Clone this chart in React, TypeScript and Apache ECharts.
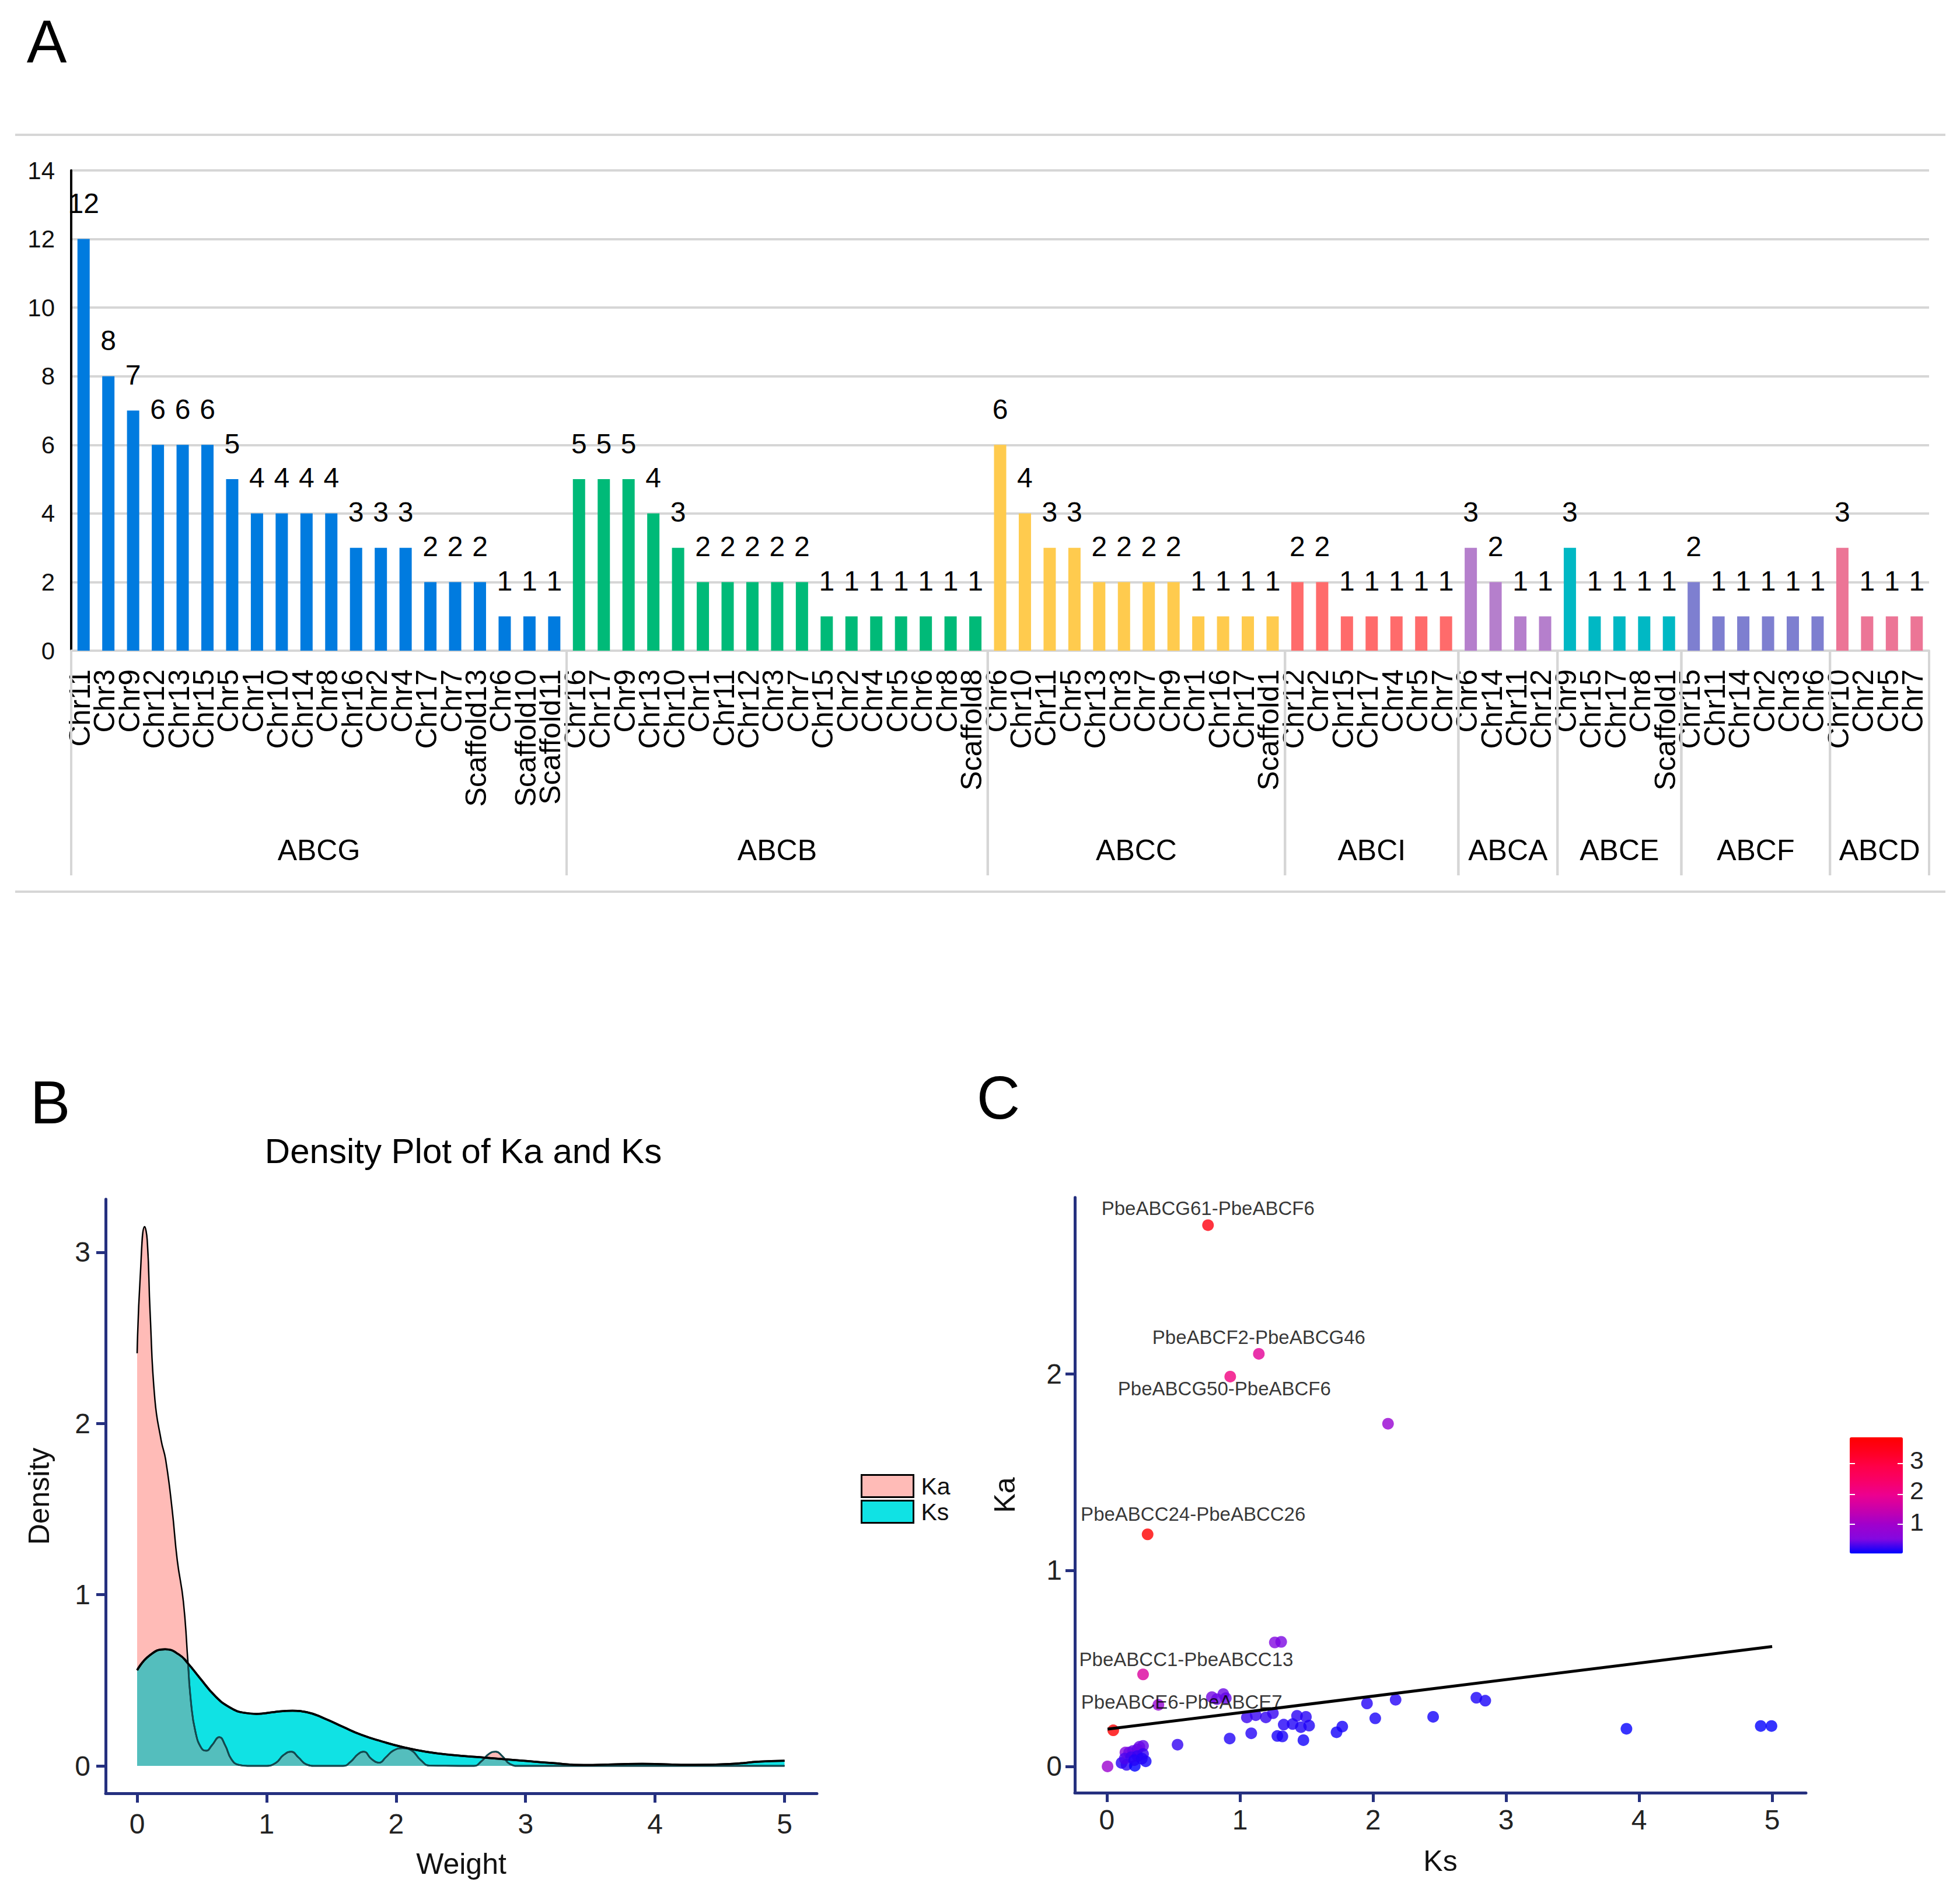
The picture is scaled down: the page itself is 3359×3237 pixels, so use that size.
import { useEffect, useRef } from 'react'
import * as echarts from 'echarts'

const FONT = '"Liberation Sans", Arial, sans-serif'
const NAVY = '#25307f'
const RULE = '#d6d6d6'

// panel A
const groupNames = ['ABCG', 'ABCB', 'ABCC', 'ABCI', 'ABCA', 'ABCE', 'ABCF', 'ABCD']
const groupColors = ['#007bdf', '#00ba78', '#ffcb4e', '#ff6b6b', '#b57fcc', '#00b8c4', '#7e7fd0', '#ec7596']
const abcgChr = ['Chr11', 'Chr3', 'Chr9', 'Chr12', 'Chr13', 'Chr15', 'Chr5', 'Chr1', 'Chr10', 'Chr14', 'Chr8', 'Chr16', 'Chr2', 'Chr4', 'Chr17', 'Chr7', 'Scaffold13', 'Chr6', 'Scaffold10', 'Scaffold11']
const abcgCount = [12, 8, 7, 6, 6, 6, 5, 4, 4, 4, 4, 3, 3, 3, 2, 2, 2, 1, 1, 1]
const abcbChr = ['Chr16', 'Chr17', 'Chr9', 'Chr13', 'Chr10', 'Chr1', 'Chr11', 'Chr12', 'Chr3', 'Chr7', 'Chr15', 'Chr2', 'Chr4', 'Chr5', 'Chr6', 'Chr8', 'Scaffold8']
const abcbCount = [5, 5, 5, 4, 3, 2, 2, 2, 2, 2, 1, 1, 1, 1, 1, 1, 1]
const abccChr = ['Chr6', 'Chr10', 'Chr11', 'Chr5', 'Chr13', 'Chr3', 'Chr7', 'Chr9', 'Chr1', 'Chr16', 'Chr17', 'Scaffold1']
const abccCount = [6, 4, 3, 3, 2, 2, 2, 2, 1, 1, 1, 1]
const abciChr = ['Chr12', 'Chr2', 'Chr15', 'Chr17', 'Chr4', 'Chr5', 'Chr7']
const abciCount = [2, 2, 1, 1, 1, 1, 1]
const abcaChr = ['Chr6', 'Chr14', 'Chr11', 'Chr12']
const abcaCount = [3, 2, 1, 1]
const abceChr = ['Chr9', 'Chr15', 'Chr17', 'Chr8', 'Scaffold1']
const abceCount = [3, 1, 1, 1, 1]
const abcfChr = ['Chr15', 'Chr11', 'Chr14', 'Chr2', 'Chr3', 'Chr6']
const abcfCount = [2, 1, 1, 1, 1, 1]
const abcdChr = ['Chr10', 'Chr2', 'Chr5', 'Chr7']
const abcdCount = [3, 1, 1, 1]

const groupChr = [abcgChr, abcbChr, abccChr, abciChr, abcaChr, abceChr, abcfChr, abcdChr]
const groupCount = [abcgCount, abcbCount, abccCount, abciCount, abcaCount, abceCount, abcfCount, abcdCount]

// panel B as [weight, density]
const kaDensity = [
  [0, 2.41], [0.024, 2.86], [0.058, 3.15], [0.078, 3.07], [0.1, 2.65], [0.137, 2.14], [0.186, 1.9], [0.22, 1.79],
  [0.27, 1.5], [0.31, 1.2], [0.357, 0.96], [0.393, 0.6], [0.416, 0.37], [0.45, 0.2], [0.497, 0.103], [0.536, 0.089],
  [0.577, 0.12], [0.635, 0.168], [0.68, 0.12], [0.727, 0.04], [0.784, 0.006], [0.853, 0], [0.99, 0], [1.07, 0.017],
  [1.13, 0.063], [1.19, 0.083], [1.245, 0.05], [1.31, 0.008], [1.38, 0], [1.59, 0], [1.647, 0.023], [1.705, 0.068],
  [1.75, 0.083], [1.81, 0.04], [1.87, 0.019], [1.92, 0.05], [1.98, 0.09], [2.05, 0.103], [2.12, 0.09], [2.19, 0.034],
  [2.26, 0.002], [2.6, 0], [2.66, 0.028], [2.72, 0.072], [2.77, 0.083], [2.82, 0.057], [2.88, 0.011], [2.95, 0], [5, 0],
]
const ksDensity = [
  [0, 0.559], [0.094, 0.644], [0.216, 0.681], [0.324, 0.65], [0.393, 0.598], [0.485, 0.513], [0.6, 0.41], [0.715, 0.342],
  [0.83, 0.31], [0.922, 0.304], [1.06, 0.315], [1.2, 0.322], [1.31, 0.314], [1.45, 0.276], [1.59, 0.228], [1.73, 0.182],
  [1.89, 0.143], [2.05, 0.11], [2.23, 0.083], [2.44, 0.063], [2.69, 0.048], [2.97, 0.031], [3.2, 0.017], [3.45, 0.005],
  [3.9, 0.012], [4.3, 0.006], [4.6, 0.012], [4.8, 0.025], [5, 0.03],
]
// where the two areas lie on top of each other
const overlapDensity = [
  [0, 0.559], [0.094, 0.644], [0.216, 0.681], [0.324, 0.65], [0.393, 0.598], [0.416, 0.37], [0.45, 0.2], [0.497, 0.103],
  [0.536, 0.089], [0.577, 0.12], [0.635, 0.168], [0.68, 0.12], [0.727, 0.04], [0.784, 0.006], [0.853, 0], [0.99, 0],
  [1.07, 0.017], [1.13, 0.063], [1.19, 0.083], [1.245, 0.05], [1.31, 0.008], [1.38, 0], [1.59, 0], [1.647, 0.023],
  [1.705, 0.068], [1.75, 0.083], [1.81, 0.04], [1.87, 0.019], [1.92, 0.05], [1.98, 0.09], [2.05, 0.103], [2.12, 0.09],
  [2.19, 0.034], [2.26, 0.002], [2.6, 0], [2.66, 0.028], [2.7, 0.047], [2.8, 0.041], [2.84, 0.036], [2.88, 0.011], [2.95, 0], [3.3, 0],
]

// panel C
const ksValues = [0.76, 1.142, 0.927, 2.113, 0.306, 1.262, 1.31, 0.272, 0.789, 0.827, 0.875, 0.894, 0.387, 0.048, 1.955, 2.17, 2.777, 2.844, 2.017, 2.452, 3.905, 4.914, 4.995, 1.769, 1.726, 1.052, 1.119, 1.195, 1.248, 1.429, 1.496, 1.329, 1.396, 1.458, 1.52, 1.085, 0.923, 1.281, 1.319, 1.477, 0.531, 0.005, 0.11, 0.148, 0.21, 0.292, 0.139, 0.167, 0.196, 0.23, 0.272, 0.244, 0.134, 0.182, 0.23, 0.272, 0.206, 0.263]
const kaValues = [2.759, 2.103, 1.987, 1.747, 1.183, 0.632, 0.635, 0.469, 0.353, 0.343, 0.369, 0.348, 0.314, 0.184, 0.321, 0.34, 0.35, 0.335, 0.245, 0.253, 0.192, 0.206, 0.206, 0.203, 0.174, 0.25, 0.261, 0.25, 0.271, 0.258, 0.253, 0.213, 0.216, 0.2, 0.208, 0.169, 0.142, 0.155, 0.153, 0.134, 0.111, 0, 0.018, 0.008, 0.003, 0.026, 0.071, 0.071, 0.079, 0.087, 0.105, 0.1, 0.04, 0.047, 0.053, 0.063, 0.032, 0.04]
const ratioValues = [3.63, 1.84, 2.14, 0.83, 3.85, 0.5, 0.48, 1.72, 0.45, 0.42, 0.42, 0.39, 0.81, 3.83, 0.16, 0.16, 0.13, 0.12, 0.12, 0.1, 0.05, 0.04, 0.04, 0.11, 0.1, 0.24, 0.23, 0.21, 0.22, 0.18, 0.17, 0.16, 0.15, 0.14, 0.14, 0.16, 0.15, 0.12, 0.12, 0.09, 0.21, 0.9, 0.16, 0.2, 0.03, 0.09, 0.51, 0.43, 0.4, 0.38, 0.39, 0.41, 0.3, 0.26, 0.23, 0.23, 0.16, 0.15]
const pairNames = ['PbeABCG61-PbeABCF6', 'PbeABCF2-PbeABCG46', 'PbeABCG50-PbeABCF6', 'PbeABCC24-PbeABCC26', 'PbeABCC1-PbeABCC13', 'PbeABCE6-PbeABCE7']
const pairPoints = [0, 1, 2, 4, 7, 12]
const pairOffsets = [[0, -29], [0, -28], [-10, 21], [78, -35], [74, -26], [40, -5]]
const trendLine = [[0.005, 0.19], [5, 0.611]]
const ratioTicks = [3, 2, 1]
const ratioColors = ['#0000ff', '#8408e0', '#a000cc', '#c800ac', '#ec0090', '#f80068', '#ff0048', '#ff0020', '#ff0000']

const densityTicks = [0, 1, 2, 3, 4, 5]
const densityYTicks = [0, 1, 2, 3]
const ksTicks = [0, 1, 2, 3, 4, 5]
const kaTicks = [0, 1, 2]

function numberAxis(gridIndex: number, min: number, max: number, ticks: number[], name: string, nameGap: number, margin: number) {
  return {
    type: 'value',
    gridIndex,
    min,
    max,
    name,
    nameLocation: 'middle',
    nameGap,
    nameTextStyle: { fontSize: 50, color: '#111', fontFamily: FONT },
    splitLine: { show: false },
    axisLine: { show: true, onZero: false, lineStyle: { color: NAVY, width: 5 } },
    axisTick: { show: true, customValues: ticks, length: 16, lineStyle: { color: NAVY, width: 5 } },
    axisLabel: { customValues: ticks, fontSize: 48, color: '#222', margin, fontFamily: FONT },
  }
}

function densityLine(name: string, data: number[][], color: string, width: number, fill?: string) {
  return {
    type: 'line',
    name,
    xAxisIndex: 2,
    yAxisIndex: 1,
    data,
    smooth: 0.5,
    showSymbol: false,
    lineStyle: { color, width },
    areaStyle: fill ? { color: fill, opacity: 1 } : undefined,
    itemStyle: { color: fill || color },
  }
}

export default function App() {
  const chartRef = useRef<HTMLDivElement>(null)

  useEffect(() => {
    if (!chartRef.current) return
    const chart = echarts.init(chartRef.current, undefined, { renderer: 'svg' })

    const chrLabels = groupChr.flat()
    const barData = groupCount.flatMap((counts, g) =>
      counts.map((value) => ({ value, itemStyle: { color: groupColors[g] } }))
    )
    let start = 0
    const groupRanges = groupNames.map((name, g) => {
      const range = [start, start + groupCount[g].length, name]
      start += groupCount[g].length
      return range
    })

    const points = ksValues.map((ks, i) => {
      const p = pairPoints.indexOf(i)
      return {
        value: [ks, kaValues[i], ratioValues[i]],
        label: p < 0 ? { show: false } : {
          show: true,
          position: 'inside',
          offset: pairOffsets[p],
          formatter: pairNames[p],
          fontSize: 33,
          color: '#000',
          fontFamily: FONT,
        },
      }
    })

    const option: any = {
      animation: false,
      backgroundColor: '#fff',
      textStyle: { fontFamily: FONT },
      title: {
        text: 'Density Plot of Ka and Ks',
        left: 789,
        top: 1937,
        textAlign: 'center',
        textStyle: { fontSize: 60, fontWeight: 'normal', color: '#000', fontFamily: FONT },
      },
      legend: {
        orient: 'vertical',
        padding: 0,
        left: 1475,
        top: 2526,
        itemWidth: 89,
        itemHeight: 38,
        itemGap: 3,
        textStyle: { fontSize: 41, color: '#111', fontFamily: FONT, padding: [0, 0, 0, 8] },
        data: [
          { name: 'Ka', icon: 'rect', itemStyle: { color: '#ffbbb7', borderColor: '#000', borderWidth: 3 } },
          { name: 'Ks', icon: 'rect', itemStyle: { color: '#10e2e4', borderColor: '#000', borderWidth: 3 } },
        ],
      },
      visualMap: {
        type: 'continuous',
        seriesIndex: 7,
        dimension: 2,
        min: 0.03,
        max: 3.85,
        calculable: false,
        padding: 0,
        left: 3170,
        top: 2463,
        itemWidth: 91,
        itemHeight: 199,
        inRange: { color: ratioColors },
      },
      grid: [
        { left: 122, right: 3359 - 3306, top: 292, height: 823 },
        { left: 181, width: 1219, top: 2055, height: 1018 },
        { left: 1842, width: 1253, top: 2052, height: 1020 },
      ],
      xAxis: [
        {
          type: 'category',
          gridIndex: 0,
          data: chrLabels,
          axisLine: { lineStyle: { color: RULE, width: 4 } },
          axisTick: { show: false },
          axisLabel: {
            interval: 0,
            hideOverlap: false,
            rotate: 90,
            margin: 32,
            fontSize: 50,
            color: '#000',
            fontFamily: FONT,
            verticalAlign: 'bottom',
            lineHeight: 13,
          },
        },
        { type: 'value', gridIndex: 0, min: 0, max: chrLabels.length, show: false },
        numberAxis(1, -0.2435, 5.25, densityTicks, 'Weight', 96, 28),
        numberAxis(2, -0.241, 5.254, ksTicks, 'Ks', 92, 22),
      ],
      yAxis: [
        {
          type: 'value',
          gridIndex: 0,
          min: 0,
          max: 14,
          interval: 2,
          axisLine: { show: true, lineStyle: { color: '#000', width: 4 } },
          axisTick: { show: false },
          axisLabel: { fontSize: 42, color: '#111', margin: 28, fontFamily: FONT },
          splitLine: { lineStyle: { color: RULE, width: 4 } },
        },
        numberAxis(1, -0.16, 3.31, densityYTicks, 'Density', 89, 26),
        numberAxis(2, -0.134, 2.9, kaTicks, 'Ka', 95, 22),
      ],
      series: [
        {
          type: 'bar',
          xAxisIndex: 0,
          yAxisIndex: 0,
          data: barData,
          barWidth: 21,
          label: { show: true, position: 'top', distance: 37, fontSize: 48, color: '#000', fontFamily: FONT },
        },
        {
          type: 'custom',
          xAxisIndex: 1,
          yAxisIndex: 0,
          data: groupRanges,
          encode: { x: [0, 1] },
          clip: false,
          renderItem: (params: any, api: any) => {
            const [x0, y0] = api.coord([api.value(0), 0])
            const [x1] = api.coord([api.value(1), 0])
            const line = (x: number) => ({
              type: 'line',
              shape: { x1: x, y1: y0, x2: x, y2: y0 + 385 },
              style: { stroke: RULE, lineWidth: 4 },
            })
            return {
              type: 'group',
              children: [
                line(x0),
                line(x1),
                {
                  type: 'text',
                  style: {
                    text: groupNames[params.dataIndex],
                    x: (x0 + x1) / 2,
                    y: y0 + 342,
                    textAlign: 'center',
                    textVerticalAlign: 'middle',
                    fill: '#000',
                    font: `50px ${FONT}`,
                  },
                },
              ],
            }
          },
        },
        densityLine('Ka', kaDensity, '#000', 2.5, '#ffbbb7'),
        densityLine('Ks', ksDensity, '#000', 3.5, '#10e2e4'),
        densityLine('Overlap', overlapDensity, 'rgba(0,0,0,0)', 0, '#54bebd'),
        densityLine('Ka low', kaDensity.filter((d) => d[0] >= 0.393), '#124a50', 3),
        densityLine('Ks top', ksDensity, '#000', 3.5),
        {
          type: 'scatter',
          name: 'pairs',
          xAxisIndex: 3,
          yAxisIndex: 2,
          symbolSize: 20,
          data: points,
          z: 3,
        },
        {
          type: 'line',
          name: 'trend',
          xAxisIndex: 3,
          yAxisIndex: 2,
          data: trendLine,
          showSymbol: false,
          lineStyle: { color: '#000', width: 5 },
          z: 4,
        },
      ],
      graphic: [
        ...[['A', 80, 71], ['B', 86, 1889], ['C', 1711, 1881]].map(([text, x, y]) => ({
          type: 'text',
          x,
          y,
          style: { text, fill: '#000', font: `103px ${FONT}`, textAlign: 'center', textVerticalAlign: 'middle' },
        })),
        ...[231, 1528].map((y) => ({
          type: 'line',
          shape: { x1: 26, y1: y, x2: 3334, y2: y },
          style: { stroke: RULE, lineWidth: 4 },
        })),
        ...ratioTicks.map((t, i) => ({
          type: 'text',
          x: 3285,
          y: [2502, 2554, 2608][i],
          style: { text: String(t), fill: '#222', font: `43px ${FONT}`, textAlign: 'center', textVerticalAlign: 'middle' },
        })),
        ...[2508, 2561, 2612].flatMap((y) => [
          { type: 'line', shape: { x1: 3170, y1: y, x2: 3179, y2: y }, style: { stroke: '#fff', lineWidth: 2 }, z: 10 },
          { type: 'line', shape: { x1: 3252, y1: y, x2: 3261, y2: y }, style: { stroke: '#fff', lineWidth: 2 }, z: 10 },
        ]),
      ],
    }

    chart.setOption(option)

    return () => {
      chart.dispose()
    }
  }, [])

  return <div ref={chartRef} style={{ position: 'absolute', left: 0, top: 0, width: 3359, height: 3237 }} />
}
